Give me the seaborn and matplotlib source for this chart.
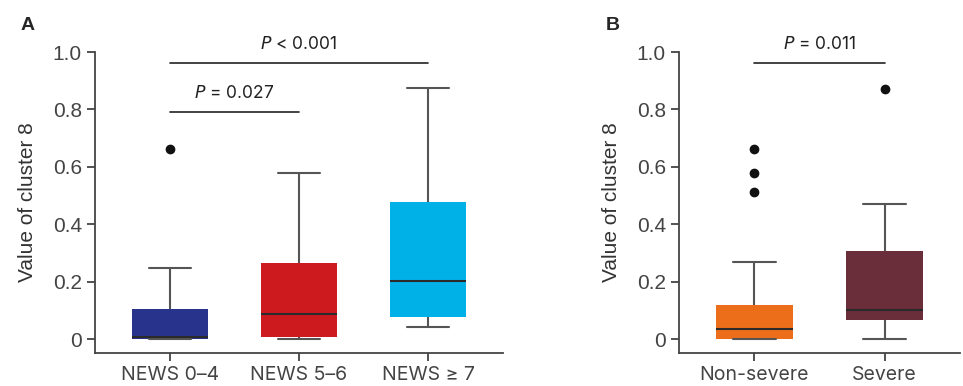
import numpy as np
import matplotlib
matplotlib.use("Agg")
import matplotlib.pyplot as plt
import seaborn as sns

# panel A values
groups_a = ["NEWS 0\u20134", "NEWS 5\u20136", "NEWS \u2265 7"]
low_a = [0.0, 0.0, 0.042]
q1_a = [0.0, 0.01, 0.077]
med_a = [0.008, 0.088, 0.205]
q3_a = [0.105, 0.266, 0.479]
high_a = [0.247, 0.58, 0.874]
fliers_a = [[0.663], [], []]
colors_a = ["#28338C", "#CC1A1F", "#00B1E8"]

# panel B values
groups_b = ["Non-severe", "Severe"]
low_b = [0.0, 0.0]
q1_b = [0.0, 0.068]
med_b = [0.035, 0.101]
q3_b = [0.121, 0.309]
high_b = [0.271, 0.472]
fliers_b = [[0.663, 0.58, 0.512], [0.871]]
colors_b = ["#EC6E1A", "#6A2D3A"]

sns.set_theme(style="ticks")
plt.rcParams["font.family"] = ["Liberation Sans", "DejaVu Sans"]
txt_font = ["Inter", "DejaVu Sans"]

fig = plt.figure(figsize=(9.63, 3.86), dpi=100)
W, H = 963, 386
axA = fig.add_axes([95 / W, 1 - 353 / H, (503 - 95) / W, (353 - 52) / H])
axB = fig.add_axes([679 / W, 1 - 353 / H, (960 - 679) / W, (353 - 52) / H])


def draw(ax, labels, lo, q1, med, q3, hi, fl, cols):
    stats = []
    for i in range(len(labels)):
        stats.append(dict(med=med[i], q1=q1[i], q3=q3[i], whislo=lo[i],
                          whishi=hi[i], fliers=np.array(fl[i]), label=labels[i]))
    bp = ax.bxp(stats, positions=range(len(labels)), widths=0.59, capwidths=0.33,
                patch_artist=True,
                boxprops=dict(linewidth=0),
                medianprops=dict(color="#2a2a2a", linewidth=1.5),
                whiskerprops=dict(color="#555555", linewidth=1.5),
                capprops=dict(color="#555555", linewidth=1.5),
                flierprops=dict(marker="o", markerfacecolor="#111111",
                                markeredgecolor="#111111", markersize=6))
    for patch, c in zip(bp["boxes"], cols):
        patch.set_facecolor(c)
        patch.set_edgecolor(c)
    for w in bp["whiskers"]:
        w.set_zorder(1)
    ax.set_ylim(-0.047, 1.0)
    ax.set_xlim(-0.58, len(labels) - 0.42)
    ax.set_yticks([0, 0.2, 0.4, 0.6, 0.8, 1.0])
    ax.set_yticklabels(["0", "0.2", "0.4", "0.6", "0.8", "1.0"], fontsize=15, color="#333333")
    ax.set_xticks(range(len(labels)))
    ax.set_xticklabels(labels, fontsize=14, color="#333333", family=txt_font)
    ax.set_ylabel("Value of cluster 8", fontsize=15, color="#333333", labelpad=11)
    for s in ["top", "right"]:
        ax.spines[s].set_visible(False)
    for s in ["left", "bottom"]:
        ax.spines[s].set_color("#444444")
        ax.spines[s].set_linewidth(1.3)
    ax.tick_params(axis="both", colors="#444444", length=6, width=1.3)
    ax.tick_params(axis="x", pad=3)
    ax.set_facecolor("white")


def bracket(ax, x0, x1, y, text, ty):
    ax.plot([x0, x1], [y, y], color="#222222", lw=1.2, clip_on=False)
    ax.text((x0 + x1) / 2, ty, text, ha="center", va="bottom", fontsize=12.5,
            color="#222222", family=txt_font, clip_on=False)


draw(axA, groups_a, low_a, q1_a, med_a, q3_a, high_a, fliers_a, colors_a)
draw(axB, groups_b, low_b, q1_b, med_b, q3_b, high_b, fliers_b, colors_b)

bracket(axA, 0, 2, 0.961, "$P$ < 0.001", 0.995)
bracket(axA, 0, 1, 0.791, "$P$ = 0.027", 0.825)
bracket(axB, 0, 1, 0.961, "$P$ = 0.011", 0.995)

fig.text(28 / W, 1 - 25 / H, "A", fontsize=14, fontweight="bold", ha="center", va="center")
fig.text(613 / W, 1 - 25 / H, "B", fontsize=14, fontweight="bold", ha="center", va="center")

fig.savefig("out.png", dpi=100, facecolor="white")
